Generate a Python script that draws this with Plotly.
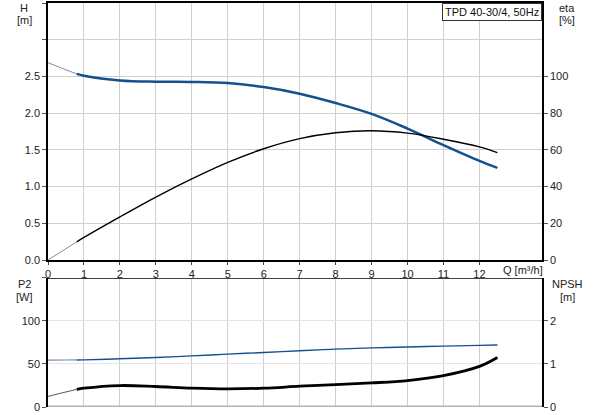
import plotly.graph_objects as go

# flow Q [m3/h]
q = [0, 0.5, 0.8, 1, 2, 3, 4, 5, 6, 7, 8, 9, 10, 11, 12, 12.5]
# head H [m]
head = [2.687, 2.59, 2.535, 2.51, 2.445, 2.428, 2.425, 2.41, 2.355, 2.265, 2.138, 1.99, 1.79, 1.565, 1.35, 1.255]
# efficiency eta [%]
eta = [0, 6.2, 9.9, 12.3, 23.5, 34.3, 44.2, 53.2, 60.6, 66.1, 69.3, 70.4, 69.1, 65.8, 61.6, 58.5]
# power P2 [W]
p2 = [54.5, 54.6, 54.7, 54.8, 56, 57.5, 59.4, 61.5, 63.3, 65.4, 67.3, 68.7, 69.8, 70.7, 71.6, 72]
# NPSH [m]
npsh = [0.246, 0.35, 0.41, 0.437, 0.499, 0.476, 0.437, 0.42, 0.437, 0.483, 0.522, 0.56, 0.614, 0.729, 0.943, 1.15]

x_ticks = list(range(0, 13))
h_ticks = [0, 0.5, 1.0, 1.5, 2.0, 2.5, 3.0, 3.5]
eta_ticks = [0, 20, 40, 60, 80, 100]
p2_ticks = [0, 50, 100, 150]
npsh_ticks = [0, 1, 2]

BLUE = "#14508f"
THIN = "#7d8aa3"
GRID = "#cfcfcf"
FONT = "Liberation Sans"

k = 2  # index where the duty range starts (Q = 0.8)

fig = go.Figure()
fig.add_trace(go.Scatter(x=q[:k + 1], y=head[:k + 1], mode="lines", line=dict(color=THIN, width=1, shape="spline"),
                         xaxis="x", yaxis="y"))
fig.add_trace(go.Scatter(x=q[k:], y=head[k:], mode="lines", line=dict(color=BLUE, width=2.5, shape="spline"),
                         xaxis="x", yaxis="y"))
fig.add_trace(go.Scatter(x=q[:k + 1], y=eta[:k + 1], mode="lines", line=dict(color="#888888", width=1, shape="spline"),
                         xaxis="x", yaxis="y2"))
fig.add_trace(go.Scatter(x=q[k:], y=eta[k:], mode="lines", line=dict(color="black", width=1.4, shape="spline"),
                         xaxis="x", yaxis="y2"))
fig.add_trace(go.Scatter(x=q[:k + 1], y=p2[:k + 1], mode="lines", line=dict(color=THIN, width=1.2, shape="spline"),
                         xaxis="x2", yaxis="y3"))
fig.add_trace(go.Scatter(x=q[k:], y=p2[k:], mode="lines", line=dict(color=BLUE, width=1.4, shape="spline"),
                         xaxis="x2", yaxis="y3"))
fig.add_trace(go.Scatter(x=q[:k + 1], y=npsh[:k + 1], mode="lines", line=dict(color="#555555", width=1, shape="spline"),
                         xaxis="x2", yaxis="y4"))
fig.add_trace(go.Scatter(x=q[k:], y=npsh[k:], mode="lines", line=dict(color="black", width=2.8, shape="spline"),
                         xaxis="x2", yaxis="y4"))

top_dom = [0.3638, 1]
bot_dom = [0, 0.3195]
xr = [0, 13.74]

ax_common = dict(showgrid=True, gridcolor=GRID, gridwidth=1, zeroline=False,
                 tickfont=dict(family=FONT, size=11, color="#222"))

fig.update_layout(
    width=593, height=415,
    margin=dict(l=48, r=51, t=1, b=8),
    paper_bgcolor="white", plot_bgcolor="white",
    showlegend=False,
    font=dict(family=FONT, size=11, color="#222"),
    xaxis=dict(domain=[0, 1], range=xr, anchor="y", tickvals=x_ticks, ticks="outside", ticklen=3,
               showline=True, linecolor="black", linewidth=1.5, mirror=True, **ax_common),
    yaxis=dict(domain=top_dom, range=[0, 3.5], anchor="x", tickvals=h_ticks,
               ticktext=["0.0", "0.5", "1.0", "1.5", "2.0", "2.5", "", ""],
               ticks="outside", ticklen=4, tickcolor="#555",
               showline=True, linecolor="black", linewidth=1.5, **ax_common),
    yaxis2=dict(range=[0, 140], overlaying="y", side="right", anchor="x", tickvals=eta_ticks,
                ticks="outside", ticklen=4, tickcolor="#555", showgrid=False, zeroline=False,
                showline=True, linecolor="black", linewidth=1.5,
                tickfont=dict(family=FONT, size=11, color="#222")),
    xaxis2=dict(domain=[0, 1], range=xr, anchor="y3", tickvals=x_ticks, showticklabels=False,
                showline=False, **ax_common),
    yaxis3=dict(domain=bot_dom, range=[0, 150], anchor="x2", tickvals=p2_ticks,
                ticktext=["0", "50", "100", ""], ticks="outside", ticklen=4, tickcolor="#555",
                showline=True, linecolor="black", linewidth=1.5, **ax_common),
    yaxis4=dict(range=[0, 3], overlaying="y3", side="right", anchor="x2", tickvals=npsh_ticks,
                ticks="outside", ticklen=4, tickcolor="#555", showgrid=True, gridcolor="#e4e4e4",
                zeroline=False, showline=True, linecolor="black", linewidth=1.5,
                tickfont=dict(family=FONT, size=11, color="#222")),
)

# bottom panel frame: black top, grey base
fig.add_shape(type="line", xref="x2", yref="y3", x0=xr[0], x1=xr[1], y0=150, y1=150,
              line=dict(color="black", width=1.5))
fig.add_shape(type="line", xref="x2", yref="y3", x0=xr[0], x1=xr[1], y0=0, y1=0,
              line=dict(color="#b4b4b4", width=3))


def label(text, x, y, anchor="center"):
    fig.add_annotation(text=text, xref="paper", yref="paper", x=x, y=y, showarrow=False,
                       xanchor=anchor, yanchor="middle", font=dict(family=FONT, size=11, color="#222"))


def px_x(p):
    return (p - 48) / 494


def px_y(p):
    return (407 - p) / 406


label("H", px_x(24), px_y(6))
label("[m]", px_x(24), px_y(18))
label("eta", px_x(567), px_y(6))
label("[%]", px_x(567), px_y(18))
label("Q [m³/h]", px_x(501), px_y(269), "left")
label("P2", px_x(24), px_y(283))
label("[W]", px_x(24), px_y(296))
label("NPSH", px_x(567), px_y(283))
label("[m]", px_x(567), px_y(296))

fig.add_annotation(text="TPD 40-30/4, 50Hz", xref="paper", yref="paper", x=1, y=1,
                   xanchor="right", yanchor="top", showarrow=False, bgcolor="white",
                   bordercolor="#333", borderwidth=1, borderpad=2,
                   font=dict(family=FONT, size=11, color="#111"))

fig.write_html("out.html", config={"displayModeBar": False},
               post_script="document.body.style.margin='0';")
